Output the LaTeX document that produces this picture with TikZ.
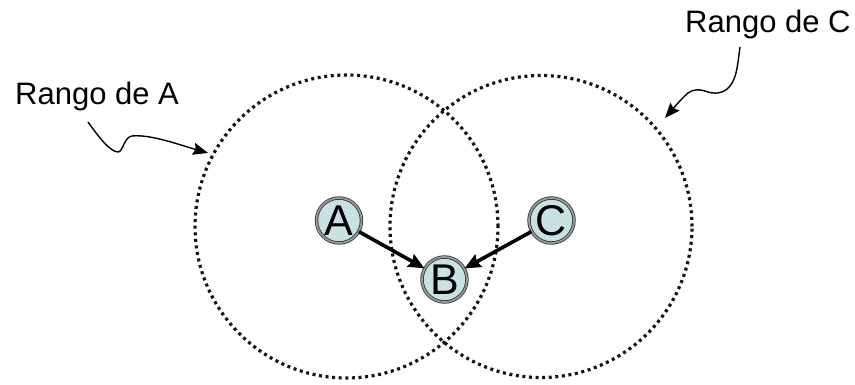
\documentclass[tikz,border=0pt]{standalone}
\usepackage{fontspec}
\setmainfont{Liberation Sans}
\usetikzlibrary{arrows.meta}
\definecolor{nodefill}{RGB}{200,226,227}
\definecolor{ringgray}{RGB}{150,155,155}
\definecolor{dotcol}{RGB}{20,20,20}
\tikzset{
  rangecircle/.style={draw=dotcol, line width=3.2pt, dash pattern=on 3pt off 3.6pt},
  station/.style={circle, minimum size=45pt, inner sep=0pt, fill=nodefill,
    draw=black!80, double=ringgray, double distance=1.8pt, line width=0.8pt,
    font=\fontsize{43}{43}\selectfont},
  sendarrow/.style={line width=3.6pt, -{Stealth[length=16pt,width=14pt,inset=2pt]}},
  labelarrow/.style={line width=1.4pt, -{Stealth[length=15pt,width=12pt,inset=2pt]}},
  rangelabel/.style={inner sep=0pt, font=\fontsize{31}{36}\selectfont, anchor=base west}
}
\begin{document}
\begin{tikzpicture}[x=1pt,y=-1pt]
\useasboundingbox (0,0) rectangle (855,385);
\draw[rangecircle] (346.5,226.5) circle (151.5pt);
\draw[rangecircle] (541,226.5) circle (151pt);
\node[station] (A) at (339,220.5) {A};
\node[station] (C) at (551.5,220.5) {C};
\node[station] (B) at (444.5,279.5) {B};
\draw[sendarrow] (A) -- (B);
\draw[sendarrow] (C) -- (B);
\node[rangelabel] (LA) at (15,105) {Rango de A};
\node[rangelabel] (LC) at (685,33) {Rango de C};
\coordinate (sA) at (88,122);
\coordinate (tA) at (208,153);
\coordinate (sC) at (740,47);
\coordinate (tC) at (665,118);
\draw[labelarrow] (sA) .. controls (98,136) and (110,152) .. (118,152)
  .. controls (123,152) and (124,137) .. (132,136)
  .. controls (150,134) and (180,145) .. (tA);
\draw[labelarrow] (sC) .. controls (738,62) and (737,75) .. (732,83)
  .. controls (727,92) and (718,95) .. (708,92)
  .. controls (700,89) and (693,89) .. (688,93)
  .. controls (680,100) and (672,110) .. (tC);
\end{tikzpicture}
\end{document}
